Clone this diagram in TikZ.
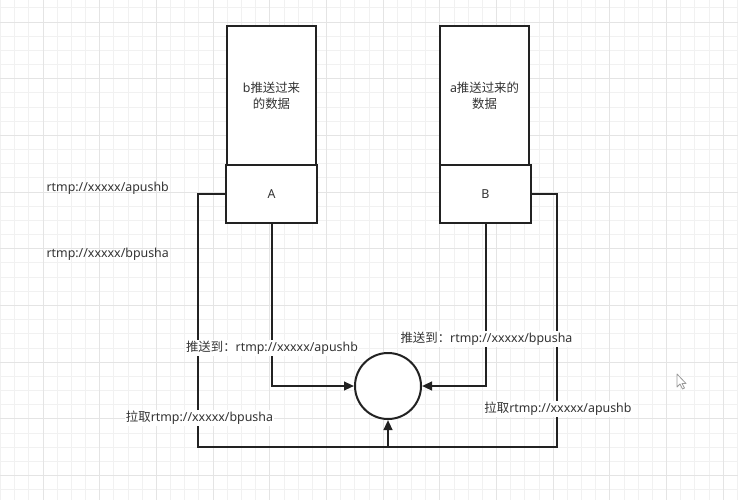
\documentclass[tikz,border=0pt]{standalone}
\usepackage{fontspec}
\setmainfont{Noto Sans}
\newfontfamily\cjk{Noto Sans CJK SC}
\usetikzlibrary{arrows.meta}
\definecolor{ink}{HTML}{222222}
\definecolor{txt}{HTML}{333333}
\definecolor{gminor}{HTML}{F1F1F1}
\definecolor{gmajor}{HTML}{E4E4E4}
\tikzset{
  box/.style={draw=ink, line width=1.5pt, fill=white, inner sep=0pt, text=txt, font=\fontsize{9.3pt}{12pt}\selectfont, align=center},
  lbl/.style={text=txt, font=\fontsize{9.3pt}{12pt}\selectfont, inner sep=1pt},
  lblw/.style={lbl, fill=white},
  conn/.style={draw=ink, line width=1.5pt},
  arr/.style={conn, -{Triangle[length=7.5pt,width=6.5pt]}},
}
\begin{document}
\begin{tikzpicture}[x=0.75pt, y=-0.75pt]
\useasboundingbox (0,0) rectangle (738,500);
\fill[white] (0,0) rectangle (738,500);
% grid
\begin{scope}
\clip (0,0) rectangle (738,500);
\foreach \i in {0,...,52} {
  \draw[gminor, line width=0.6pt] ({0.5+\i*14.17},0) -- ({0.5+\i*14.17},500);
}
\foreach \i in {0,...,35} {
  \draw[gminor, line width=0.6pt] (0,{7.83+\i*14.17}) -- (738,{7.83+\i*14.17});
}
\foreach \i in {-1,...,13} {
  \draw[gmajor, line width=0.7pt] ({43+\i*56.68},0) -- ({43+\i*56.68},500);
}
\foreach \i in {0,...,9} {
  \draw[gmajor, line width=0.7pt] (0,{22+\i*56.68}) -- (738,{22+\i*56.68});
}
\end{scope}

% boxes
\node[box, minimum width=89*0.75pt, minimum height=139*0.75pt] (Adata) at (271.5,95.5) {b{\cjk 推送过来}\\{\cjk 的数据}};
\node[box, minimum width=91*0.75pt, minimum height=58*0.75pt] (A) at (271.5,194) {A};
\node[box, minimum width=89*0.75pt, minimum height=139*0.75pt] (Bdata) at (484.5,95.5) {a{\cjk 推送过来的}\\{\cjk 数据}};
\node[box, minimum width=91*0.75pt, minimum height=58*0.75pt] (B) at (485.5,194) {B};
\node[box, circle, minimum size=66*0.75pt] (C) at (388,386) {};

% connectors
\coordinate (bl) at (198,447);
\coordinate (br) at (557,447);
\coordinate (bm) at (388,447);
\path[conn] (A.west) -| (bl) -- (br) |- (B.east);
\path[arr] (bm) -- (C.south);
\path[arr] (A.south) |- (C.west);
\path[arr] (B.south) |- (C.east);

% labels
\node[lbl, anchor=west] (u1) at (45,188) {rtmp://xxxxx/apushb};
\node[lbl, anchor=west] (u2) at (45,254) {rtmp://xxxxx/bpusha};
\node[lblw] (p1) at (272,348) {{\cjk 推送到：}rtmp://xxxxx/apushb};
\node[lblw] (p2) at (486.5,339) {{\cjk 推送到：}rtmp://xxxxx/bpusha};
\node[lblw] (l1) at (199.5,418) {{\cjk 拉取}rtmp://xxxxx/bpusha};
\node[lblw] (l2) at (558,409) {{\cjk 拉取}rtmp://xxxxx/apushb};

% mouse cursor
\draw[gray!80, line width=0.6pt, fill=white, line join=round]
  (677,374) -- (677,387) -- (680,384) -- (682.5,389) -- (684.5,388) -- (682,383.5) -- (686,383.5) -- cycle;
\end{tikzpicture}
\end{document}
